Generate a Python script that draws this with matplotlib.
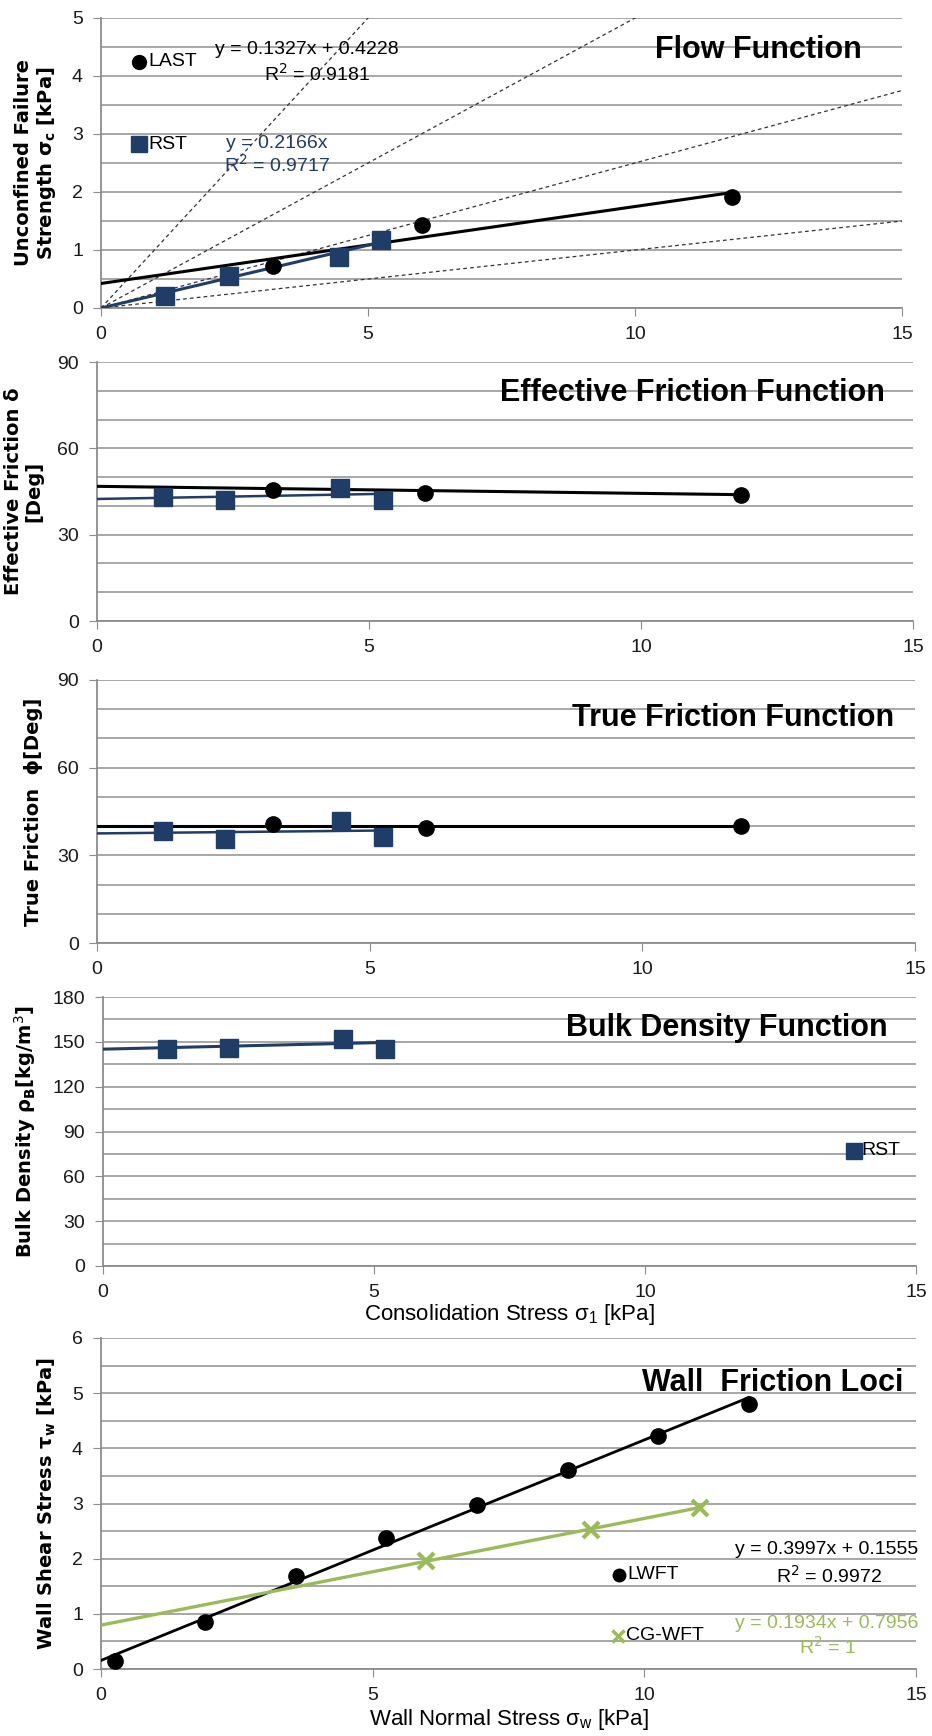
import numpy as np
import matplotlib
matplotlib.use("Agg")
import matplotlib.pyplot as plt

plt.rcParams['mathtext.fontset'] = 'dejavusans'

NARROW = ['Liberation Sans Narrow', 'Liberation Sans', 'DejaVu Sans']
BOLDF = ['DejaVu Sans']

NAVY = '#1F3D66'
GREEN = '#9BBB59'
GRID = '#A0A0A0'

# ---------------- data ----------------
# Flow function
ff_last_x = [3.22, 6.02, 11.82]
ff_last_y = [0.72, 1.43, 1.92]
ff_rst_x = [1.20, 2.40, 4.45, 5.24]
ff_rst_y = [0.20, 0.56, 0.88, 1.18]
ff_last_fit = (0.1327, 0.4228)
ff_rst_fit = (0.2166, 0.0)
ffc_slopes = [1.0, 0.5, 0.25, 0.1]

# Effective friction
ef_last_x = [3.24, 6.03, 11.84]
ef_last_y = [45.4, 44.5, 43.9]
ef_rst_x = [1.21, 2.35, 4.47, 5.25]
ef_rst_y = [43.1, 42.0, 46.2, 42.2]
ef_last_fit = (-0.245, 46.8)
ef_rst_fit = (0.34, 42.4)

# True friction
tf_last_x = [3.23, 6.03, 11.81]
tf_last_y = [40.7, 39.2, 40.1]
tf_rst_x = [1.21, 2.34, 4.47, 5.25]
tf_rst_y = [38.2, 35.5, 41.7, 36.3]
tf_last_fit = (0.0, 40.0)
tf_rst_fit = (0.19, 37.5)

# Bulk density
bd_rst_x = [1.18, 2.33, 4.43, 5.21]
bd_rst_y = [145.5, 146.0, 151.8, 145.1]
bd_rst_fit = (0.86, 145.1)

# Wall friction loci
wf_lwft_x = [0.25, 1.91, 3.58, 5.25, 6.92, 8.59, 10.25, 11.92]
wf_lwft_y = [0.15, 0.86, 1.68, 2.38, 2.98, 3.60, 4.22, 4.80]
wf_cg_x = [5.99, 9.02, 11.02]
wf_cg_y = [1.95, 2.52, 2.92]
wf_lwft_fit = (0.3997, 0.1555)
wf_cg_fit = (0.1934, 0.7956)

x_ticks = [0, 5, 10, 15]

# ---------------- figure ----------------
fig = plt.figure(figsize=(9.32, 17.36), dpi=100)

W, H = 932.0, 1736.0
def add_ax(l, r, t, b):
    return fig.add_axes([l / W, 1 - b / H, (r - l) / W, (b - t) / H])

def style(ax, ymax, ymajor, yminor):
    ax.set_xlim(0, 15)
    ax.set_ylim(0, ymax)
    ax.set_xticks(x_ticks)
    ax.set_yticks(np.arange(0, ymax + 1e-9, ymajor))
    ax.set_yticks(np.arange(0, ymax + 1e-9, yminor), minor=True)
    ax.yaxis.grid(True, which='both', color=GRID, lw=1.3)
    ax.set_axisbelow(True)
    for s in ['top', 'right']:
        ax.spines[s].set_visible(False)
    for s in ['left', 'bottom']:
        ax.spines[s].set_color('#8C8C8C')
        ax.spines[s].set_linewidth(1.3)
    ax.tick_params(axis='both', which='major', direction='out', length=6,
                   color='#8C8C8C', labelsize=14, pad=7)
    ax.tick_params(axis='y', which='minor', length=0)
    for lab in ax.get_xticklabels() + ax.get_yticklabels():
        lab.set_family(NARROW)
        lab.set_color('#1a1a1a')

def fitline(ax, fit, xmax, color, lw=2.0):
    xs = np.linspace(0, xmax, 50)
    ax.plot(xs, fit[0] * xs + fit[1], color=color, lw=lw, zorder=3)

def title(ax, txt, x, y):
    ax.text(x, y, txt, fontsize=22, fontweight='bold', family=NARROW,
            ha='right', va='center', transform=ax.transAxes)

def ylabel(ax, txt):
    ax.set_ylabel(txt, fontsize=14, fontweight='bold', family=BOLDF,
                  labelpad=10, linespacing=1.1)

# Panel 1: Flow function
ax1 = add_ax(101, 902, 18, 308)
style(ax1, 5, 1, 0.5)
xs = np.linspace(0, 15, 100)
for s in ffc_slopes:
    ax1.plot(xs, s * xs, color='#333333', lw=0.9, ls=(0, (3, 2.5)), zorder=2)
fitline(ax1, ff_last_fit, max(ff_last_x), 'black', 2.2)
fitline(ax1, ff_rst_fit, max(ff_rst_x), NAVY, 2.2)
ax1.plot(ff_rst_x, ff_rst_y, 's', color=NAVY, ms=13, zorder=4)
ax1.plot(ff_last_x, ff_last_y, 'o', color='black', ms=11, zorder=4)
ax1.plot([0.72], [4.25], 'o', color='black', ms=10, clip_on=False)
ax1.text(0.88, 4.25, 'LAST', fontsize=14, family=NARROW, va='center')
ax1.plot([0.72], [2.82], 's', color=NAVY, ms=11, clip_on=False)
ax1.text(0.88, 2.82, 'RST', fontsize=14, family=NARROW, va='center')
ax1.text(3.85, 4.45, 'y = 0.1327x + 0.4228', fontsize=14, family=NARROW, ha='center', va='center')
ax1.text(4.05, 4.04, 'R$^2$ = 0.9181', fontsize=14, family=NARROW, ha='center', va='center')
ax1.text(3.3, 2.83, 'y = 0.2166x', fontsize=14, family=NARROW, ha='center', va='center', color=NAVY)
ax1.text(3.3, 2.46, 'R$^2$ = 0.9717', fontsize=14, family=NARROW, ha='center', va='center', color=NAVY)
title(ax1, 'Flow Function', 0.95, 0.89)
ylabel(ax1, 'Unconfined Failure\nStrength σ$_\\mathregular{c}$ [kPa]')

# Panel 2: Effective friction
ax2 = add_ax(97, 913, 362, 621)
style(ax2, 90, 30, 10)
fitline(ax2, ef_last_fit, max(ef_last_x), 'black', 2.2)
fitline(ax2, ef_rst_fit, max(ef_rst_x), NAVY, 1.8)
ax2.plot(ef_rst_x, ef_rst_y, 's', color=NAVY, ms=13, zorder=4)
ax2.plot(ef_last_x, ef_last_y, 'o', color='black', ms=11, zorder=4)
title(ax2, 'Effective Friction Function', 0.965, 0.88)
ylabel(ax2, 'Effective Friction δ\n[Deg]')

# Panel 3: True friction
ax3 = add_ax(97, 915, 680, 943)
style(ax3, 90, 30, 10)
fitline(ax3, tf_last_fit, max(tf_last_x), 'black', 2.2)
fitline(ax3, tf_rst_fit, max(tf_rst_x), NAVY, 1.8)
ax3.plot(tf_rst_x, tf_rst_y, 's', color=NAVY, ms=13, zorder=4)
ax3.plot(tf_last_x, tf_last_y, 'o', color='black', ms=11, zorder=4)
title(ax3, 'True Friction Function', 0.975, 0.855)
ylabel(ax3, 'True Friction  ϕ[Deg]')

# Panel 4: Bulk density
ax4 = add_ax(103, 916, 997, 1266)
style(ax4, 180, 30, 15)
fitline(ax4, bd_rst_fit, max(bd_rst_x), NAVY, 2.2)
ax4.plot(bd_rst_x, bd_rst_y, 's', color=NAVY, ms=13, zorder=4)
ax4.plot([13.86], [77], 's', color=NAVY, ms=11)
ax4.text(14.0, 77, 'RST', fontsize=14, family=NARROW, va='center')
title(ax4, 'Bulk Density Function', 0.965, 0.885)
ylabel(ax4, 'Bulk Density ρ$_\\mathregular{B}$[kg/m$^3$]')
ax4.set_xlabel('Consolidation Stress σ$_\\mathregular{1}$ [kPa]', fontsize=16,
               family=NARROW, labelpad=1)

# Panel 5: Wall friction loci
ax5 = add_ax(101, 916, 1338, 1669)
style(ax5, 6, 1, 0.5)
fitline(ax5, wf_lwft_fit, max(wf_lwft_x), 'black', 2.0)
fitline(ax5, wf_cg_fit, max(wf_cg_x), GREEN, 2.4)
ax5.plot(wf_lwft_x, wf_lwft_y, 'o', color='black', ms=11, zorder=4)
ax5.plot(wf_cg_x, wf_cg_y, 'x', color=GREEN, ms=12, mew=3, zorder=4)
ax5.plot([9.54], [1.71], 'o', color='black', ms=9)
ax5.text(9.68, 1.71, 'LWFT', fontsize=14, family=NARROW, va='center')
ax5.plot([9.52], [0.60], 'x', color=GREEN, ms=9, mew=2.5)
ax5.text(9.66, 0.60, 'CG-WFT', fontsize=14, family=NARROW, va='center')
ax5.text(15.05, 2.17, 'y = 0.3997x + 0.1555', fontsize=14, family=NARROW, ha='right', va='center')
ax5.text(13.4, 1.69, 'R$^2$ = 0.9972', fontsize=14, family=NARROW, ha='center', va='center')
ax5.text(15.05, 0.83, 'y = 0.1934x + 0.7956', fontsize=14, family=NARROW, ha='right', va='center', color=GREEN)
ax5.text(13.37, 0.40, 'R$^2$ = 1', fontsize=14, family=NARROW, ha='center', va='center', color=GREEN)
title(ax5, 'Wall  Friction Loci', 0.985, 0.865)
ylabel(ax5, 'Wall Shear Stress τ$_\\mathregular{w}$ [kPa]')
ax5.set_xlabel('Wall Normal Stress σ$_\\mathregular{w}$ [kPa]', fontsize=16,
               family=NARROW, labelpad=2)

fig.savefig('out.png', dpi=100)
